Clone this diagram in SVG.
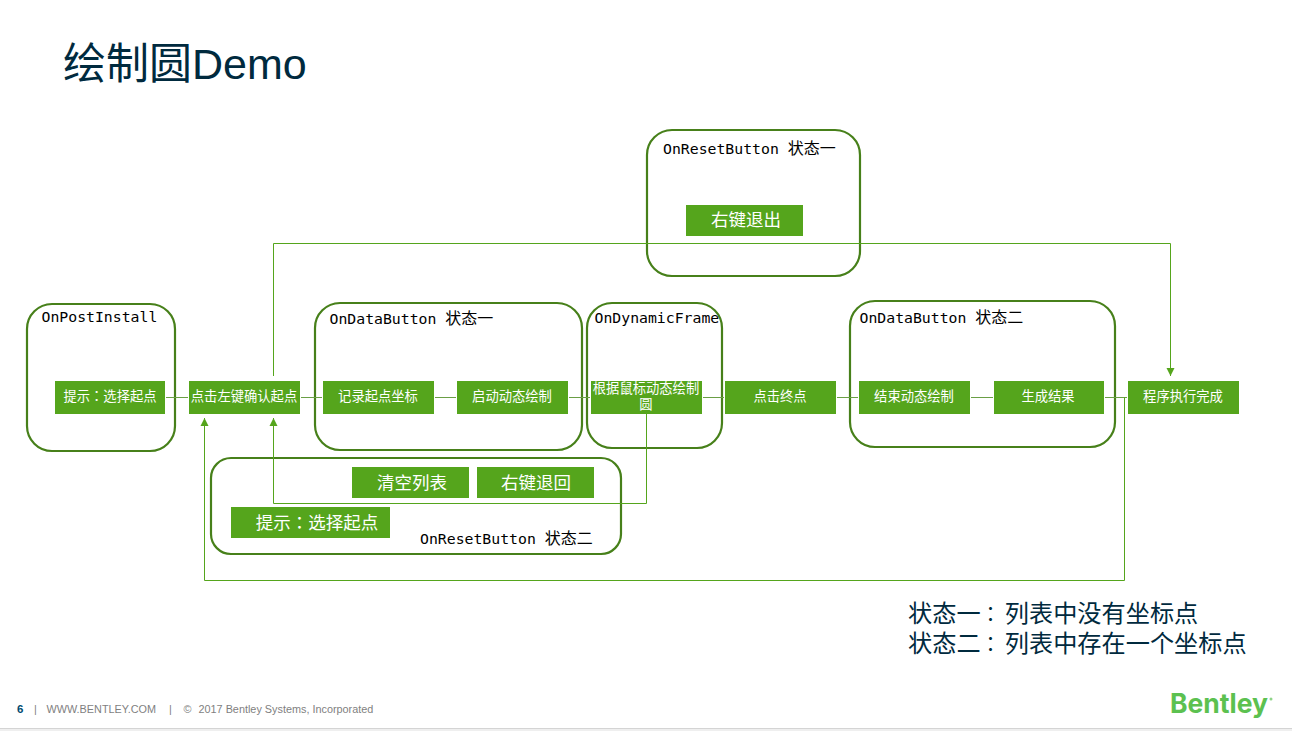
<svg xmlns="http://www.w3.org/2000/svg" width="1292" height="731" viewBox="0 0 1292 731">
  <style>
    .frame { fill: #fff; fill-opacity: 0; stroke: #47801a; stroke-width: 2.2; }
    .box { fill: #55a51c; }
    .boxtext { font-family: "Liberation Sans", "Noto Sans CJK SC", sans-serif; font-size: 13.3px; fill: #fff; text-anchor: middle; }
    .bigtext { font-family: "Liberation Sans", "Noto Sans CJK SC", sans-serif; font-size: 17.5px; fill: #fff; text-anchor: middle; }
    .head { font-family: "DejaVu Sans Mono", "Noto Sans CJK SC", monospace; font-size: 14.8px; fill: #000; }
    .head tspan { font-family: "Noto Sans CJK SC", sans-serif; font-size: 16px; }
    .colon { font-family: "Noto Sans CJK TC", sans-serif; }
    .note-colon { font-family: "Noto Sans CJK TC", sans-serif; font-size: 20px; }
    .link { fill: none; stroke: #55a51c; stroke-width: 1; }
    .seg { fill: none; stroke: #6a9f45; stroke-width: 1; }
    .note { font-family: "Liberation Sans", "Noto Sans CJK SC", sans-serif; font-size: 24.2px; fill: #002a3e; }
    .foot { font-family: "Liberation Sans", Arial, sans-serif; font-size: 10.85px; fill: #7f7f7f; }
  </style>
  <defs>
    <marker id="tip" markerUnits="userSpaceOnUse" markerWidth="9" markerHeight="9" refX="8" refY="4.5" orient="auto">
      <path d="M0 0.5 L8 4.5 L0 8.5 Z" fill="#55a51c"/>
    </marker>
  </defs>
  <rect width="1292" height="731" fill="#fff"/>

  <text id="title" x="63" y="79" font-family="'Liberation Sans','Noto Sans CJK SC',sans-serif" font-size="43" fill="#002a3e">绘制圆Demo</text>

  <g id="frames">
    <g id="frame-post-install"><rect class="frame" x="27" y="304" width="148" height="147" rx="25"/><text class="head" x="41.5" y="322">OnPostInstall</text></g>
    <g id="frame-data-one"><rect class="frame" x="315" y="303" width="267" height="147" rx="25"/><text class="head" x="329.5" y="324">OnDataButton <tspan>状态一</tspan></text></g>
    <g id="frame-dynamic"><rect class="frame" x="587" y="303" width="135" height="145" rx="25"/><text class="head" x="594.5" y="323">OnDynamicFrame</text></g>
    <g id="frame-data-two"><rect class="frame" x="850" y="301" width="265" height="146" rx="25"/><text class="head" x="859.5" y="323">OnDataButton <tspan>状态二</tspan></text></g>
    <g id="frame-reset-one"><rect class="frame" x="647" y="130" width="213" height="146" rx="25"/><text class="head" x="663" y="154">OnResetButton <tspan>状态一</tspan></text></g>
    <g id="frame-reset-two"><rect class="frame" x="211" y="458" width="410" height="96" rx="20"/><text class="head" x="420" y="544">OnResetButton <tspan>状态二</tspan></text></g>
  </g>

  <g id="connectors">
    <path class="seg" d="M166 397.5H188M301 397.5H322M435 397.5H456M569 397.5H590M703 397.5H724M837 397.5H858M971 397.5H993M1105 397.5H1127"/>
    <path class="link" d="M273.5 376V243.5H1170.5V376" marker-end="url(#tip)"/>
    <path class="link" d="M646.5 414V503.5H273.5V418" marker-end="url(#tip)"/>
    <path class="link" d="M1124.5 397.5V580.5H204.5V418" marker-end="url(#tip)"/>
  </g>

  <g id="step-prompt"><rect class="box" x="55" y="381" width="110" height="33"/><text class="boxtext" x="110" y="401">提示<tspan class="colon">：</tspan>选择起点</text></g>
  <g id="step-click-start"><rect class="box" x="189" y="381" width="111" height="33"/><text class="boxtext" x="244" y="401">点击左键确认起点</text></g>
  <g id="step-record"><rect class="box" x="323" y="381" width="111" height="33"/><text class="boxtext" x="378" y="401">记录起点坐标</text></g>
  <g id="step-start-dynamic"><rect class="box" x="457" y="381" width="111" height="33"/><text class="boxtext" x="512" y="401">启动动态绘制</text></g>
  <g id="step-draw-dynamic"><rect class="box" x="591" y="381" width="111" height="33"/><text class="boxtext"><tspan x="646" y="393">根据鼠标动态绘制</tspan><tspan x="646" y="409">圆</tspan></text></g>
  <g id="step-click-end"><rect class="box" x="725" y="381" width="111" height="33"/><text class="boxtext" x="780" y="401">点击终点</text></g>
  <g id="step-end-dynamic"><rect class="box" x="859" y="381" width="111" height="33"/><text class="boxtext" x="914" y="401">结束动态绘制</text></g>
  <g id="step-result"><rect class="box" x="994" y="381" width="110" height="33"/><text class="boxtext" x="1048" y="401">生成结果</text></g>
  <g id="step-done"><rect class="box" x="1128" y="381" width="111" height="33"/><text class="boxtext" x="1183" y="401">程序执行完成</text></g>

  <g id="action-exit"><rect class="box" x="686" y="205" width="117" height="31"/><text class="bigtext" x="746" y="226">右键退出</text></g>
  <g id="action-clear"><rect class="box" x="352" y="467" width="117" height="31"/><text class="bigtext" x="412" y="489">清空列表</text></g>
  <g id="action-back"><rect class="box" x="477" y="467" width="117" height="31"/><text class="bigtext" x="536" y="489">右键退回</text></g>
  <g id="action-prompt"><rect class="box" x="231" y="507" width="159" height="31"/><text class="bigtext" x="317" y="529">提示<tspan class="colon">：</tspan>选择起点</text></g>

  <text id="legend" class="note"><tspan x="908" y="622">状态一<tspan class="note-colon">：</tspan><tspan dx="4.2">列表中没有坐标点</tspan></tspan><tspan x="908" y="652">状态二<tspan class="note-colon">：</tspan><tspan dx="4.2">列表中存在一个坐标点</tspan></tspan></text>

  <g id="footer">
    <text x="17" y="713" font-family="'Liberation Sans',Arial,sans-serif" font-size="11.5" font-weight="700" fill="#004a6f">6</text>
    <text class="foot" x="34" y="713">|</text>
    <text class="foot" x="46.5" y="713">WWW.BENTLEY.COM</text>
    <text class="foot" x="169" y="713">|</text>
    <text class="foot" x="183.5" y="713">©</text>
    <text class="foot" x="198.5" y="713">2017 Bentley Systems, Incorporated</text>
    <text x="1170" y="712.5" font-family="Inter,sans-serif" font-size="26.5" font-weight="700" fill="#5cc150">Bentley</text>
    <circle cx="1271" cy="699" r="1.5" fill="#8fd488"/>
    <rect x="0" y="728" width="1292" height="1" fill="#d4d4d4"/>
    <rect x="0" y="729" width="1292" height="2" fill="#efefef"/>
  </g>
</svg>
